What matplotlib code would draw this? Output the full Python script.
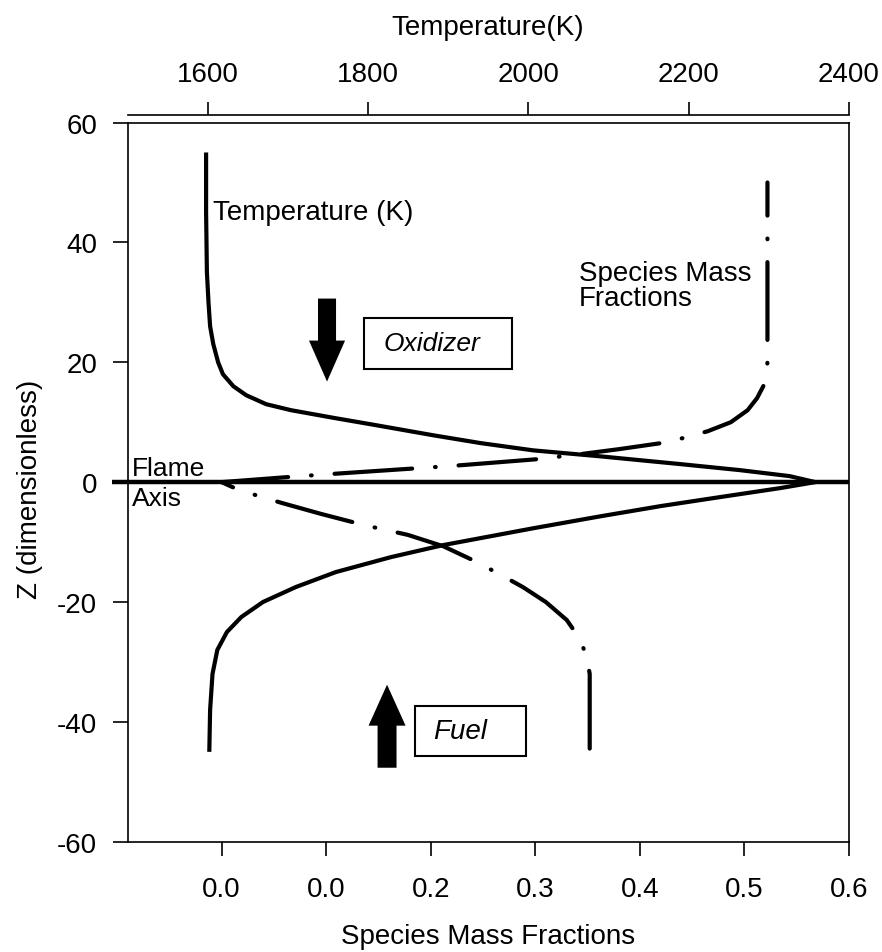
import numpy as np
import matplotlib.pyplot as plt
from matplotlib.patches import FancyArrow, Rectangle

plt.rcParams['font.family'] = ['Liberation Sans', 'DejaVu Sans']
plt.rcParams['lines.scale_dashes'] = False
plt.rcParams['axes.unicode_minus'] = False

# temperature profile across the flame (K), z from oxidizer side to fuel side
z_temp = [55, 45, 35, 30, 26, 23, 20, 18, 16, 14.5, 13, 12, 10.7, 9.5, 7.8, 6.5, 5.3, 4.3,
          3, 2, 1, 0, -1, -2.5, -4, -5.7, -7.7, -10.5, -12.5, -15, -17.5, -20, -22.5, -25,
          -28, -32, -38, -45]
temp_K = [1598, 1598, 1599, 1601, 1603, 1607, 1613, 1619, 1632, 1648, 1673, 1704, 1758, 1810,
          1882, 1941, 2006, 2090, 2190, 2264, 2326, 2358, 2314, 2239, 2165, 2090, 2006, 1894,
          1829, 1760, 1710, 1669, 1642, 1624, 1612, 1606, 1603, 1602]

# species mass fraction, oxidizer side (z >= 0)
z_ox = [0, 0.8, 1.3, 2.0, 2.7, 3.8, 4.6, 5.5, 6.5, 7.5, 8.5, 10, 12, 14, 16, 18, 20, 50]
y_ox = [0.0, 0.06, 0.10, 0.16, 0.22, 0.30, 0.34, 0.38, 0.42, 0.445, 0.465, 0.487, 0.503,
        0.512, 0.518, 0.521, 0.522, 0.522]

# species mass fraction, fuel side (z <= 0)
z_fu = [0, -1.2, -2.3, -3.5, -5.3, -7.2, -8.8, -10.7, -13, -15, -17.5, -20, -23, -26, -29,
        -32, -45.5]
y_fu = [0.0, 0.015, 0.035, 0.058, 0.095, 0.137, 0.178, 0.212, 0.240, 0.262, 0.288, 0.310,
        0.330, 0.342, 0.349, 0.352, 0.352]

x_ticks = [0.0, 0.1, 0.2, 0.3, 0.4, 0.5, 0.6]
x_ticklabels = ['0.0', '0.0', '0.2', '0.3', '0.4', '0.5', '0.6']
t_ticks = [1600, 1800, 2000, 2200, 2400]
z_ticks = [-60, -40, -20, 0, 20, 40, 60]

fig = plt.figure(figsize=(8.82, 9.53), dpi=100)
ax = fig.add_axes([0.1446, 0.1157, 0.8180, 0.7547])

ax.set_xlim(-0.09, 0.6)
ax.set_ylim(-60, 60)
ax.set_xticks(x_ticks)
ax.set_xticklabels(x_ticklabels)
ax.set_yticks(z_ticks)
ax.tick_params(axis='x', direction='out', length=10, width=1.2, pad=15, labelsize=20)
ax.tick_params(axis='y', direction='out', length=10.8, width=1.2, pad=11, labelsize=20)
ax.tick_params(top=False, right=False)
for sp in ax.spines.values():
    sp.set_linewidth(1.2)

# species mass fractions, dash-dot
dd = (56, 16.5, 0.5, 16.5)
ax.plot(y_ox, z_ox, color='black', lw=3.0, linestyle=(8, dd), dash_capstyle='round')
ax.plot(y_fu, z_fu, color='black', lw=3.0, linestyle=(47, dd), dash_capstyle='round')

# flame axis
ax.plot([-0.021, 1], [0, 0], transform=ax.get_yaxis_transform(), clip_on=False,
        color='black', lw=3.2, solid_capstyle='butt')

# temperature on the top axis
ax2 = ax.twiny()
ax2.set_xlim(1500, 2400)
ax2.set_xticks(t_ticks)
ax2.spines['top'].set_position(('outward', 5.5))
for s in ['bottom', 'left', 'right']:
    ax2.spines[s].set_visible(False)
ax2.spines['top'].set_linewidth(1.2)
ax2.tick_params(axis='x', direction='out', length=9.4, width=1.2, pad=11, labelsize=20)
ax2.plot(temp_K, z_temp, color='black', lw=3.0, solid_capstyle='butt', solid_joinstyle='round')

# annotations
ax.text(0.118, 0.876, 'Temperature (K)', transform=ax.transAxes, fontsize=20, va='center', ha='left')
ax.text(0.626, 0.773, 'Species Mass\nFractions', transform=ax.transAxes, fontsize=20,
        va='center', ha='left', linespacing=0.95)
ax.text(0.006, 0.503, 'Flame', transform=ax.transAxes, fontsize=19, va='bottom', ha='left')
ax.text(0.006, 0.494, 'Axis', transform=ax.transAxes, fontsize=19, va='top', ha='left')

ax.add_patch(FancyArrow(0.2765, 0.7552, 0, -0.1154, width=0.025, head_width=0.05,
                        head_length=0.057, length_includes_head=True,
                        transform=ax.transAxes, color='black', lw=0))
ax.add_patch(FancyArrow(0.3597, 0.1029, 0, 0.1155, width=0.0263, head_width=0.0513,
                        head_length=0.057, length_includes_head=True,
                        transform=ax.transAxes, color='black', lw=0))

ax.add_patch(Rectangle((0.3278, 0.6579), 0.2051, 0.0709, transform=ax.transAxes,
                       fill=False, lw=1.5, ec='black'))
ax.text(0.422, 0.694, 'Oxidizer', transform=ax.transAxes, fontsize=19, style='italic',
        va='center', ha='center')
ax.add_patch(Rectangle((0.3985, 0.1196), 0.1538, 0.0696, transform=ax.transAxes,
                       fill=False, lw=1.5, ec='black'))
ax.text(0.461, 0.1544, 'Fuel', transform=ax.transAxes, fontsize=20, style='italic',
        va='center', ha='center')

fig.text(0.553, 0.0168, 'Species Mass Fractions', fontsize=20, ha='center', va='center')
fig.text(0.553, 0.971, 'Temperature(K)', fontsize=20, ha='center', va='center')
fig.text(0.034, 0.487, 'Z (dimensionless)', fontsize=20, ha='center', va='center', rotation=90)

fig.savefig('out.png', dpi=100)
